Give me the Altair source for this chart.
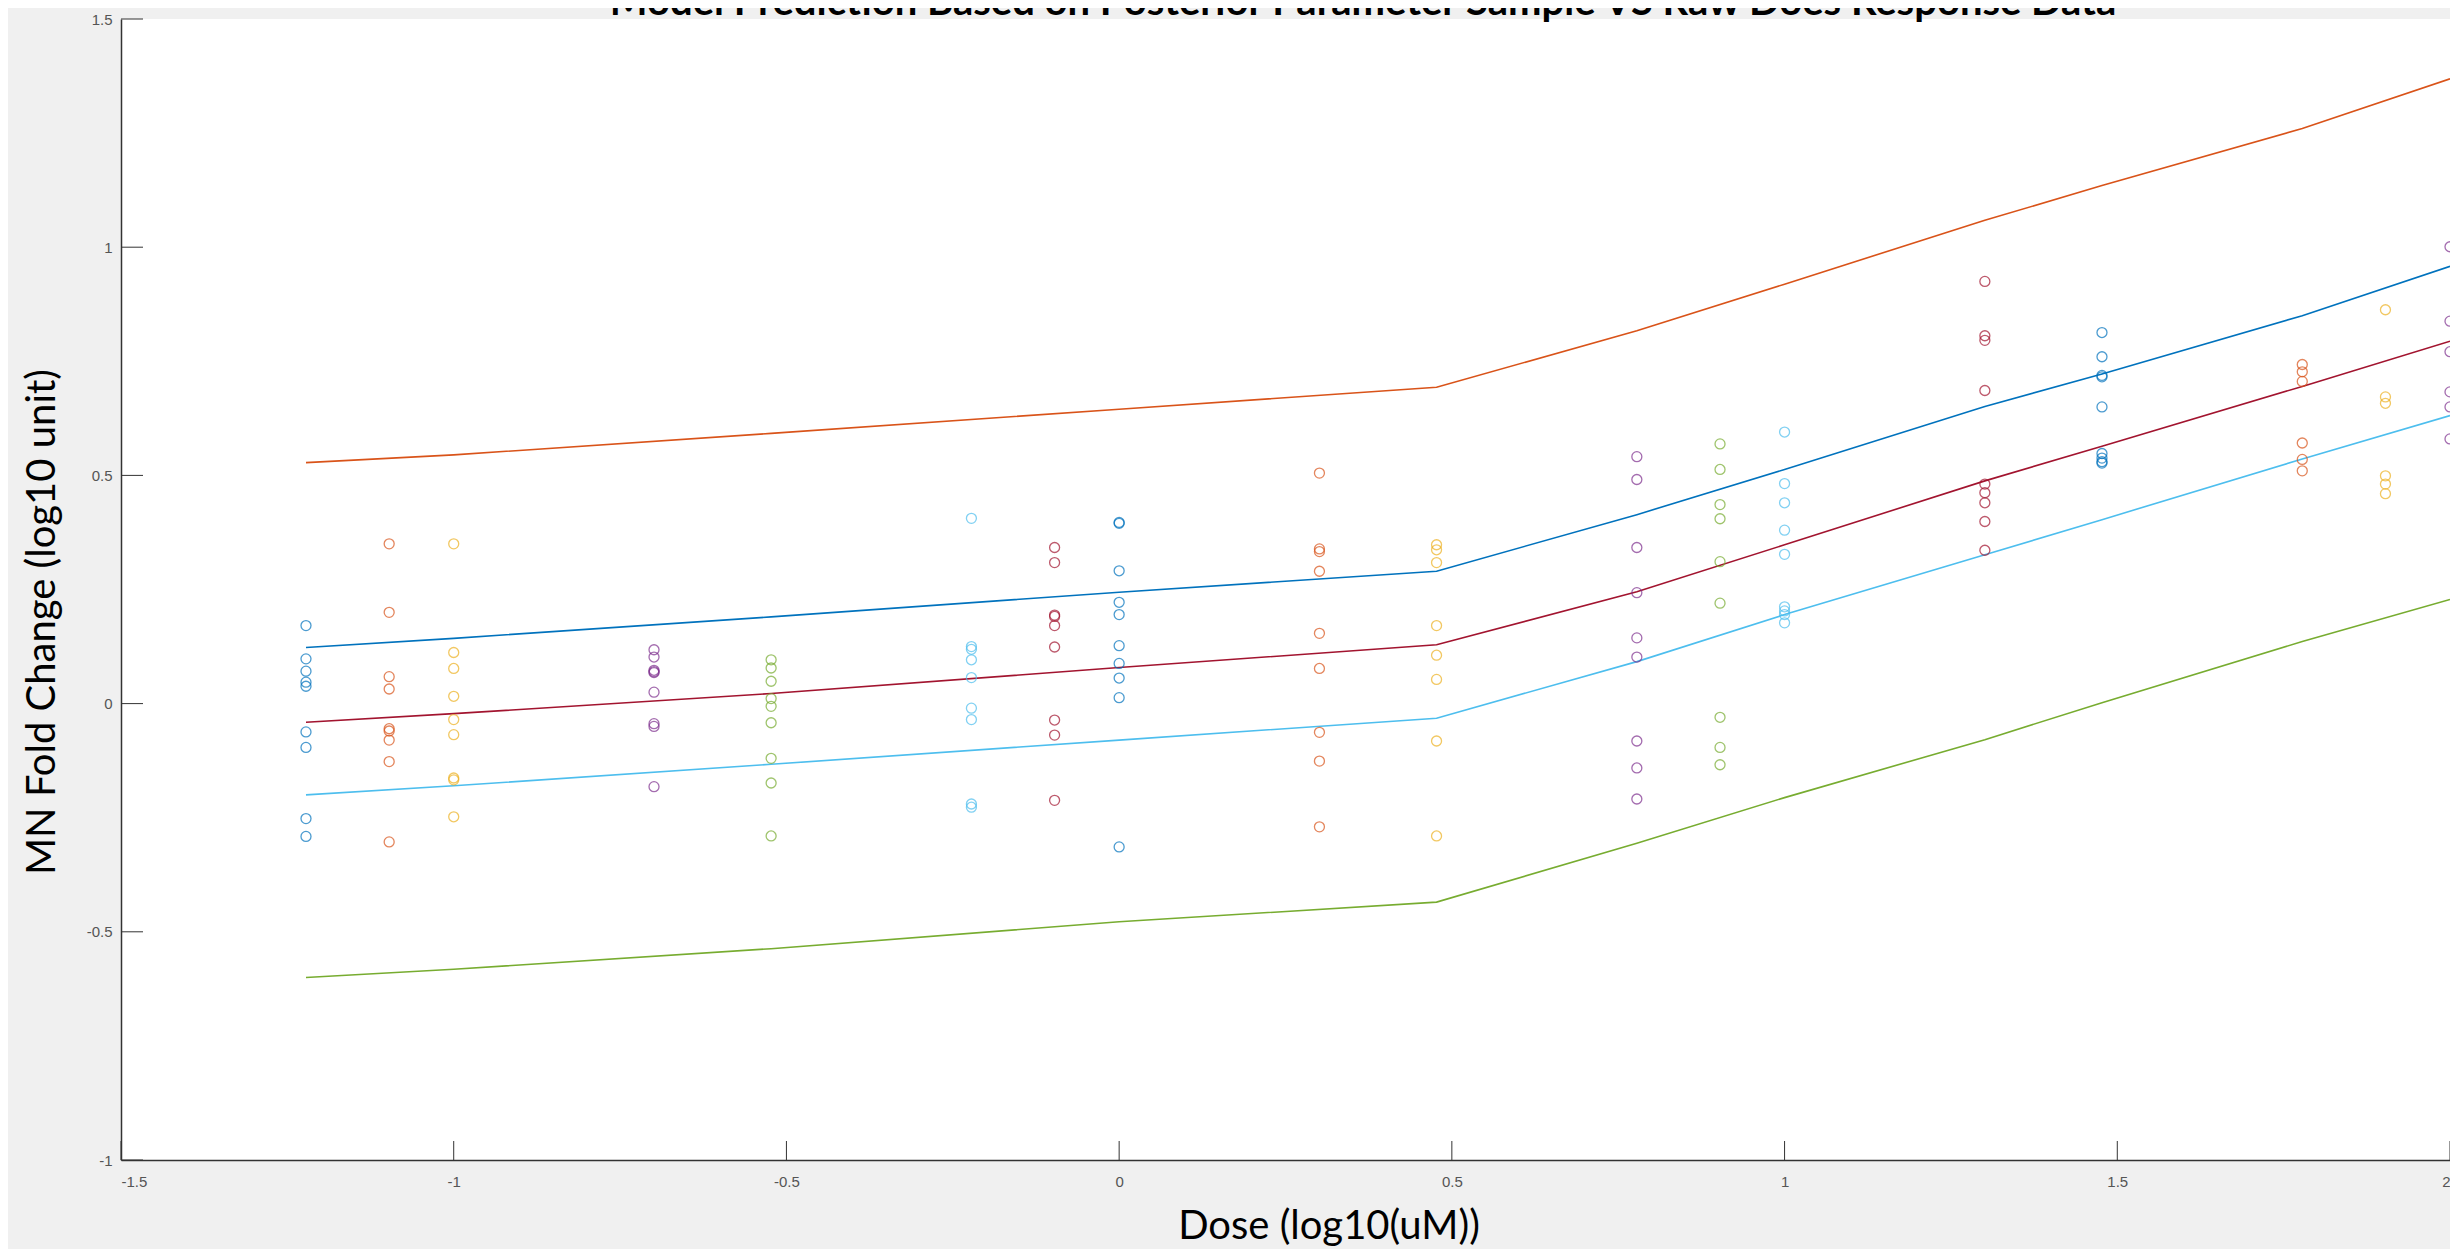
import altair as alt
import pandas as pd

# ---- data ----
doses = [-1.222, -1.097, -1.0, -0.699, -0.523, -0.222, -0.097, 0.0, 0.301,
         0.477, 0.778, 0.903, 1.0, 1.301, 1.477, 1.778, 1.903, 2.0]

obs_d01 = [0.171, 0.098, 0.071, 0.047, 0.038, -0.062, -0.096, -0.252, -0.291]
obs_d02 = [0.350, 0.200, 0.059, 0.032, -0.055, -0.060, -0.080, -0.127, -0.303]
obs_d03 = [0.350, 0.112, 0.077, 0.016, -0.035, -0.068, -0.163, -0.167, -0.248]
obs_d04 = [0.118, 0.102, 0.073, 0.070, 0.068, 0.025, -0.044, -0.050, -0.182]
obs_d05 = [0.096, 0.078, 0.049, 0.011, -0.006, -0.042, -0.120, -0.174, -0.290]
obs_d06 = [0.406, 0.125, 0.119, 0.096, 0.057, -0.010, -0.035, -0.220, -0.227]
obs_d07 = [0.342, 0.309, 0.194, 0.191, 0.171, 0.124, -0.036, -0.069, -0.212]
obs_d08 = [0.397, 0.395, 0.291, 0.222, 0.195, 0.127, 0.088, 0.056, 0.013, -0.314]
obs_d09 = [0.505, 0.339, 0.333, 0.290, 0.154, 0.077, -0.063, -0.126, -0.270]
obs_d10 = [0.348, 0.337, 0.309, 0.171, 0.106, 0.053, -0.082, -0.290]
obs_d11 = [0.541, 0.491, 0.342, 0.243, 0.144, 0.102, -0.082, -0.141, -0.209]
obs_d12 = [0.569, 0.513, 0.436, 0.405, 0.311, 0.220, -0.030, -0.096, -0.134]
obs_d13 = [0.595, 0.482, 0.440, 0.380, 0.327, 0.212, 0.203, 0.195, 0.177]
obs_d14 = [0.925, 0.806, 0.796, 0.686, 0.481, 0.462, 0.440, 0.399, 0.336]
obs_d15 = [0.813, 0.760, 0.719, 0.716, 0.650, 0.548, 0.538, 0.530, 0.527]
obs_d16 = [0.743, 0.727, 0.706, 0.571, 0.535, 0.510]
obs_d17 = [0.863, 0.672, 0.658, 0.499, 0.481, 0.460]
obs_d18 = [1.001, 0.838, 0.771, 0.683, 0.650, 0.580]

obs_groups = [obs_d01, obs_d02, obs_d03, obs_d04, obs_d05, obs_d06, obs_d07, obs_d08,
              obs_d09, obs_d10, obs_d11, obs_d12, obs_d13, obs_d14, obs_d15, obs_d16,
              obs_d17, obs_d18]

line_x = [-1.222, -1.0, -0.523, 0.0, 0.477, 0.778, 1.0, 1.301, 1.477, 1.778, 2.0]
line_upper = [0.528, 0.545, 0.592, 0.645, 0.693, 0.817, 0.919, 1.059, 1.135, 1.260, 1.369]
line_q75 = [0.123, 0.143, 0.190, 0.244, 0.290, 0.414, 0.513, 0.651, 0.722, 0.850, 0.958]
line_median = [-0.041, -0.022, 0.022, 0.079, 0.129, 0.245, 0.348, 0.488, 0.564, 0.695, 0.794]
line_q25 = [-0.200, -0.180, -0.133, -0.080, -0.032, 0.092, 0.195, 0.326, 0.403, 0.536, 0.631]
line_lower = [-0.600, -0.582, -0.537, -0.478, -0.435, -0.306, -0.206, -0.079, 0.002, 0.136, 0.228]

line_names = ["upper", "q75", "median", "q25", "lower"]
line_colors = ["#D95319", "#0072BD", "#A2142F", "#4DBEEE", "#77AC30"]

matlab_cycle = ["#0072BD", "#D95319", "#EDB120", "#7E2F8E", "#77AC30", "#4DBEEE", "#A2142F"]

x_ticks = [-1.5, -1.0, -0.5, 0.0, 0.5, 1.0, 1.5, 2.0]
y_ticks = [-1.0, -0.5, 0.0, 0.5, 1.0, 1.5]

title_text = "Model Prediction Based on Posterior Parameter Sample VS Raw Does Response Data"
x_title = "Dose (log10(uM))"
y_title = "MN Fold Change (log10 unit)"

# ---- build tables ----
pt_rows = []
for i, (d, vals) in enumerate(zip(doses, obs_groups)):
    for v in vals:
        pt_rows.append({"dose": d, "y": v, "grp": f"g{i % 7}"})
pts = pd.DataFrame(pt_rows)

ln_rows = []
for name, ys in zip(line_names, [line_upper, line_q75, line_median, line_q25, line_lower]):
    for xv, yv in zip(line_x, ys):
        ln_rows.append({"dose": xv, "y": yv, "series": name})
lines_df = pd.DataFrame(ln_rows)

W, H = 2329, 1141
xscale = alt.Scale(domain=[-1.5, 2], nice=False, zero=False)
yscale = alt.Scale(domain=[-1, 1.5], nice=False, zero=False)

tick_font = "Liberation Sans"
xaxis = alt.Axis(values=x_ticks, labelExpr="toString(datum.value)", title=None, grid=False,
                 tickSize=0, labelPadding=14, labelFont=tick_font, labelFontSize=15,
                 labelColor="#555555", domainColor="#333333", domainWidth=1.5)
yaxis = alt.Axis(values=y_ticks, labelExpr="toString(datum.value)", title=None, grid=False,
                 tickSize=0, labelPadding=9, labelFont=tick_font, labelFontSize=15,
                 labelColor="#555555", domainColor="#333333", domainWidth=1.5)

lines = alt.Chart(lines_df).mark_line(strokeWidth=1.6).encode(
    x=alt.X("dose:Q", scale=xscale, axis=xaxis),
    y=alt.Y("y:Q", scale=yscale, axis=yaxis),
    color=alt.Color("series:N", scale=alt.Scale(domain=line_names, range=line_colors), legend=None),
    detail="series:N",
)

points = alt.Chart(pts).mark_point(shape="circle", filled=False, size=100, strokeWidth=1.3).encode(
    x=alt.X("dose:Q", scale=xscale),
    y=alt.Y("y:Q", scale=yscale),
    stroke=alt.Stroke("grp:N", scale=alt.Scale(domain=[f"g{i}" for i in range(7)], range=matlab_cycle), legend=None),
)

xt = alt.Chart(pd.DataFrame({"v": x_ticks})).mark_rule(color="#333333", strokeWidth=1).encode(
    x=alt.X("v:Q", scale=xscale), y=alt.value(H), y2=alt.value(H - 19))
yt = alt.Chart(pd.DataFrame({"v": y_ticks})).mark_rule(color="#333333", strokeWidth=1).encode(
    y=alt.Y("v:Q", scale=yscale), x=alt.value(0), x2=alt.value(22))

title_mark = alt.Chart(pd.DataFrame({"t": [title_text]})).mark_text(
    font="Lato", fontWeight="bold", fontSize=40, align="center", baseline="alphabetic", color="#000000"
).encode(text="t:N", x=alt.value(1242), y=alt.value(-4))

xlab = alt.Chart(pd.DataFrame({"t": [x_title]})).mark_text(
    font="Lato", fontSize=40, align="center", baseline="alphabetic", color="#000000"
).encode(text="t:N", x=alt.value(1208), y=alt.value(1220))

ylab = alt.Chart(pd.DataFrame({"t": [y_title]})).mark_text(
    font="Lato", fontSize=40, align="center", baseline="alphabetic", angle=270, color="#000000"
).encode(text="t:N", x=alt.value(-66), y=alt.value(603))

chart = alt.layer(lines, points, xt, yt, title_mark, xlab, ylab).properties(
    width=W, height=H,
    autosize=alt.AutoSizeParams(type="none"),
    padding={"left": 113, "top": 11, "right": 0, "bottom": 89},
    background="#f0f0f0",
).configure_view(fill="#ffffff", stroke=None).resolve_scale(color="independent")

chart.save("out.html", embed_options={"renderer": "svg", "actions": False})
